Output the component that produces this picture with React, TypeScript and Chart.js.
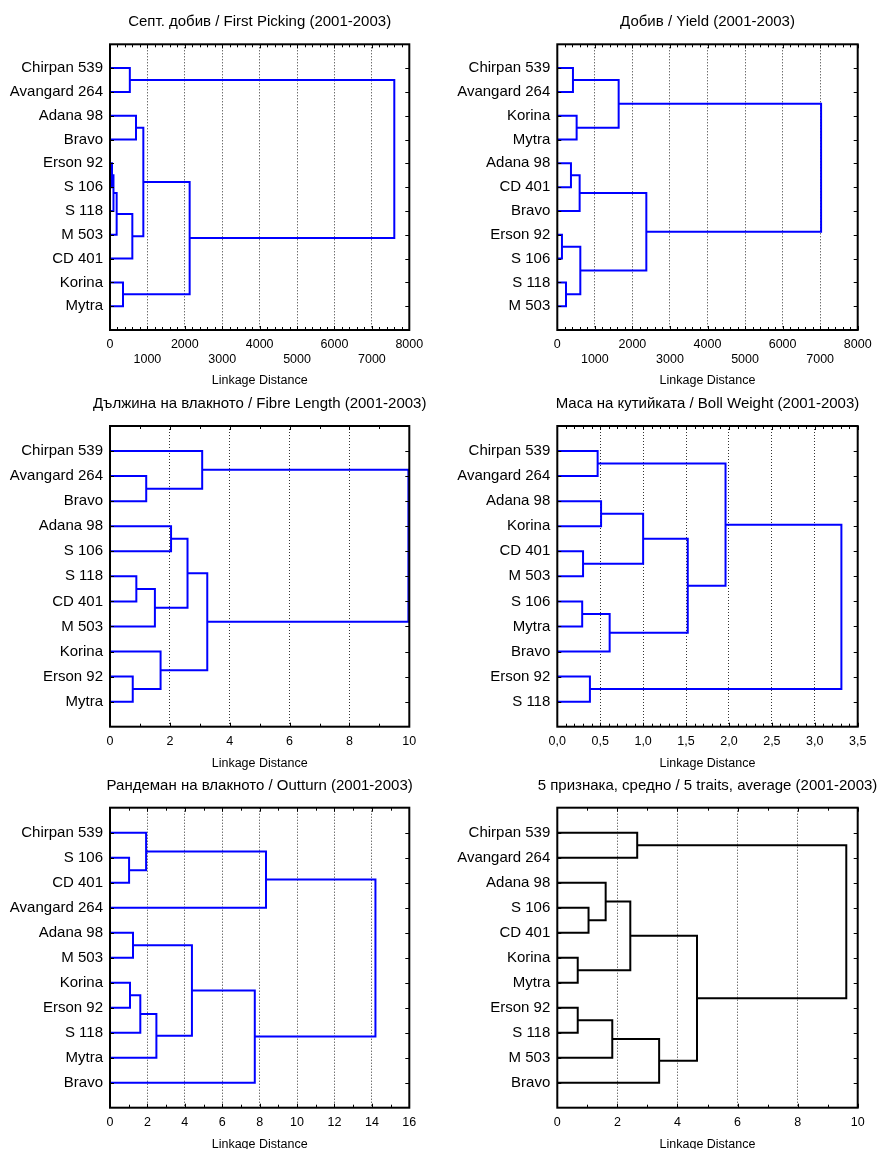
import React, { useEffect, useRef } from 'react';
import { Chart, registerables } from 'chart.js';

Chart.register(...registerables);

const FONT = "'Liberation Sans', Arial, Helvetica, sans-serif";
const AXIS_TITLE = 'Linkage Distance';

// ---------- Panel 1: First Picking ----------
const P1_TITLE = 'Септ. добив / First Picking (2001-2003)';
const P1_LEAVES = ['Chirpan 539', 'Avangard 264', 'Adana 98', 'Bravo', 'Erson 92', 'S 106', 'S 118', 'M 503', 'CD 401', 'Korina', 'Mytra'];
// [nodeA, nodeB, linkage distance]; leaves are 0..10, merges get ids 11, 12, ...
const P1_MERGES = [
  [4, 5, 53], [11, 6, 93], [12, 7, 178], [13, 8, 597], [0, 1, 530],
  [2, 3, 695], [16, 14, 891], [9, 10, 347], [17, 18, 2129], [15, 19, 7599],
];
const P1_XTICKS = [0, 1000, 2000, 3000, 4000, 5000, 6000, 7000, 8000];
const P1_XLABELS = ['0', ['', '1000'], '2000', ['', '3000'], '4000', ['', '5000'], '6000', ['', '7000'], '8000'];

// ---------- Panel 2: Yield ----------
const P2_TITLE = 'Добив / Yield (2001-2003)';
const P2_LEAVES = ['Chirpan 539', 'Avangard 264', 'Korina', 'Mytra', 'Adana 98', 'CD 401', 'Bravo', 'Erson 92', 'S 106', 'S 118', 'M 503'];
const P2_MERGES = [
  [0, 1, 417], [2, 3, 515], [11, 12, 1634], [4, 5, 364], [14, 6, 595],
  [7, 8, 124], [9, 10, 231], [16, 17, 613], [15, 18, 2371], [13, 19, 7025],
];
const P2_XTICKS = P1_XTICKS;
const P2_XLABELS = P1_XLABELS;

// ---------- Panel 3: Fibre Length ----------
const P3_TITLE = 'Дължина на влакното / Fibre Length (2001-2003)';
const P3_LEAVES = ['Chirpan 539', 'Avangard 264', 'Bravo', 'Adana 98', 'S 106', 'S 118', 'CD 401', 'M 503', 'Korina', 'Erson 92', 'Mytra'];
const P3_MERGES = [
  [1, 2, 1.21], [0, 11, 3.08], [3, 4, 2.04], [5, 6, 0.88], [14, 7, 1.5],
  [13, 15, 2.59], [9, 10, 0.76], [8, 17, 1.69], [16, 18, 3.25], [12, 19, 9.97],
];
const P3_XTICKS = [0, 2, 4, 6, 8, 10];
const P3_XLABELS = ['0', '2', '4', '6', '8', '10'];

// ---------- Panel 4: Boll Weight ----------
const P4_TITLE = 'Маса на кутийката / Boll Weight (2001-2003)';
const P4_LEAVES = ['Chirpan 539', 'Avangard 264', 'Adana 98', 'Korina', 'CD 401', 'M 503', 'S 106', 'Mytra', 'Bravo', 'Erson 92', 'S 118'];
const P4_MERGES = [
  [0, 1, 0.47], [2, 3, 0.51], [4, 5, 0.3], [12, 13, 1.0], [6, 7, 0.29],
  [15, 8, 0.61], [14, 16, 1.52], [11, 17, 1.96], [9, 10, 0.38], [18, 19, 3.31],
];
const P4_XTICKS = [0, 0.5, 1, 1.5, 2, 2.5, 3, 3.5];
const P4_XLABELS = ['0,0', '0,5', '1,0', '1,5', '2,0', '2,5', '3,0', '3,5'];

// ---------- Panel 5: Outturn ----------
const P5_TITLE = 'Рандеман на влакното / Outturn (2001-2003)';
const P5_LEAVES = ['Chirpan 539', 'S 106', 'CD 401', 'Avangard 264', 'Adana 98', 'M 503', 'Korina', 'Erson 92', 'S 118', 'Mytra', 'Bravo'];
const P5_MERGES = [
  [1, 2, 1.02], [0, 11, 1.93], [12, 3, 8.34], [4, 5, 1.23], [6, 7, 1.07],
  [15, 8, 1.62], [16, 9, 2.48], [14, 17, 4.38], [18, 10, 7.74], [13, 19, 14.19],
];
const P5_XTICKS = [0, 2, 4, 6, 8, 10, 12, 14, 16];
const P5_XLABELS = ['0', '2', '4', '6', '8', '10', '12', '14', '16'];

// ---------- Panel 6: 5 traits average ----------
const P6_TITLE = '5 признака, средно / 5 traits, average (2001-2003)';
const P6_LEAVES = ['Chirpan 539', 'Avangard 264', 'Adana 98', 'S 106', 'CD 401', 'Korina', 'Mytra', 'Erson 92', 'S 118', 'M 503', 'Bravo'];
const P6_MERGES = [
  [0, 1, 2.66], [3, 4, 1.04], [2, 12, 1.61], [5, 6, 0.68], [13, 14, 2.43],
  [7, 8, 0.68], [16, 9, 1.83], [17, 10, 3.39], [15, 18, 4.65], [11, 19, 9.62],
];
const P6_XTICKS = P3_XTICKS;
const P6_XLABELS = P3_XLABELS;

// ---------- Layout (positions / styles only) ----------
const PANELS = [
  { title: P1_TITLE, leaves: P1_LEAVES, merges: P1_MERGES, xticks: P1_XTICKS, xlabels: P1_XLABELS, minor: 200, color: '#0000ff',
    left: 0, top: 0, w: 440, h: 388, padTop: 44.3, padRight: 30.7, yw: 110, xh: 58 },
  { title: P2_TITLE, leaves: P2_LEAVES, merges: P2_MERGES, xticks: P2_XTICKS, xlabels: P2_XLABELS, minor: 200, color: '#0000ff',
    left: 440, top: 0, w: 439, h: 388, padTop: 44.3, padRight: 21.3, yw: 117.3, xh: 58 },
  { title: P3_TITLE, leaves: P3_LEAVES, merges: P3_MERGES, xticks: P3_XTICKS, xlabels: P3_XLABELS, minor: 1, color: '#0000ff',
    left: 0, top: 385, w: 440, h: 386, padTop: 41, padRight: 30.7, yw: 110, xh: 44.3 },
  { title: P4_TITLE, leaves: P4_LEAVES, merges: P4_MERGES, xticks: P4_XTICKS, xlabels: P4_XLABELS, minor: 0.1, color: '#0000ff',
    left: 440, top: 385, w: 439, h: 386, padTop: 41, padRight: 21.3, yw: 117.3, xh: 44.3 },
  { title: P5_TITLE, leaves: P5_LEAVES, merges: P5_MERGES, xticks: P5_XTICKS, xlabels: P5_XLABELS, minor: 1, color: '#0000ff',
    left: 0, top: 765, w: 440, h: 387, padTop: 42.7, padRight: 30.7, yw: 110, xh: 44.3 },
  { title: P6_TITLE, leaves: P6_LEAVES, merges: P6_MERGES, xticks: P6_XTICKS, xlabels: P6_XLABELS, minor: 1, color: '#000000',
    left: 440, top: 765, w: 439, h: 387, padTop: 42.7, padRight: 21.3, yw: 117.3, xh: 44.3 },
];

function buildLinks(leaves: string[], merges: number[][]) {
  const n = leaves.length;
  const nx: number[] = [];
  const ny: number[] = [];
  for (let i = 0; i < n; i++) { nx.push(0); ny.push(i + 1); }
  const links: { x: number; y: number }[][] = [];
  merges.forEach(([a, b, h]) => {
    links.push([
      { x: nx[a], y: ny[a] },
      { x: h, y: ny[a] },
      { x: h, y: ny[b] },
      { x: nx[b], y: ny[b] },
    ]);
    nx.push(h);
    ny.push((ny[a] + ny[b]) / 2);
  });
  return links;
}

function Dendrogram({ p }: { p: any }) {
  const ref = useRef<HTMLCanvasElement>(null);
  useEffect(() => {
    if (!ref.current) return;
    const links = buildLinks(p.leaves, p.merges);
    const xMax = p.xticks[p.xticks.length - 1];
    const majorStep = p.xticks[1] - p.xticks[0];
    const decor = {
      id: 'decor',
      afterDatasetsDraw(chart: any) {
        const { ctx, chartArea: a, scales } = chart;
        const x = scales.x;
        const y = scales.y;
        ctx.save();
        ctx.strokeStyle = '#000';
        ctx.lineWidth = 1;
        const seg = (x1: number, y1: number, x2: number, y2: number) => {
          ctx.beginPath(); ctx.moveTo(x1, y1); ctx.lineTo(x2, y2); ctx.stroke();
        };
        const nMinor = Math.round(xMax / p.minor);
        const per = Math.round(majorStep / p.minor);
        for (let k = 0; k <= nMinor; k++) {
          const px = Math.round(x.getPixelForValue(k * p.minor)) + 0.5;
          const len = k % per === 0 ? 4 : 3;
          seg(px, a.bottom, px, a.bottom - len);
          seg(px, a.top, px, a.top + len);
        }
        p.leaves.forEach((_: string, i: number) => {
          const py = Math.round(y.getPixelForValue(i + 1)) + 0.5;
          seg(a.left, py, a.left + 4, py);
          seg(a.right, py, a.right - 4, py);
        });
        ctx.lineWidth = 2;
        ctx.strokeRect(a.left, a.top, a.right - a.left, a.bottom - a.top);
        ctx.fillStyle = '#000';
        ctx.font = `15px ${FONT}`;
        ctx.textAlign = 'center';
        ctx.textBaseline = 'middle';
        ctx.fillText(p.title, (a.left + a.right) / 2, a.top - 22);
        ctx.restore();
      },
    };
    const chart = new Chart(ref.current, {
      type: 'scatter',
      data: {
        datasets: links.map((pts) => ({
          data: pts,
          showLine: true,
          borderColor: p.color,
          backgroundColor: p.color,
          borderWidth: 2,
          pointRadius: 0,
          tension: 0,
          borderJoinStyle: 'miter',
          borderCapStyle: 'butt',
        })),
      },
      options: {
        responsive: false,
        animation: false,
        events: [],
        layout: { padding: { top: p.padTop, right: p.padRight, left: 0, bottom: 0 } },
        plugins: { legend: { display: false }, tooltip: { enabled: false }, title: { display: false } },
        scales: {
          x: {
            type: 'linear',
            min: 0,
            max: xMax,
            afterBuildTicks: (s: any) => { s.ticks = p.xticks.map((v: number) => ({ value: v })); },
            afterFit: (s: any) => { s.height = p.xh; },
            grid: { color: '#333', lineWidth: 1, drawTicks: false },
            border: { display: false, dash: [1, 2] },
            ticks: {
              autoSkip: false,
              maxRotation: 0,
              minRotation: 0,
              padding: 7,
              color: '#000',
              font: { family: FONT, size: 12.5 },
              callback: (_v: any, i: number) => p.xlabels[i],
            },
            title: { display: true, text: AXIS_TITLE, color: '#000', font: { family: FONT, size: 12.5 }, padding: 0 },
          },
          y: {
            type: 'linear',
            min: 0,
            max: p.leaves.length + 1,
            reverse: true,
            afterBuildTicks: (s: any) => { s.ticks = p.leaves.map((_: string, i: number) => ({ value: i + 1 })); },
            afterFit: (s: any) => { s.width = p.yw; },
            grid: { display: false, drawTicks: false },
            border: { display: false },
            ticks: {
              autoSkip: false,
              padding: 7,
              color: '#000',
              font: { family: FONT, size: 15 },
              callback: (v: any) => p.leaves[Math.round(v) - 1] ?? '',
            },
          },
        },
      },
      plugins: [decor],
    } as any);
    return () => chart.destroy();
  }, [p]);
  return (
    <canvas
      ref={ref}
      width={p.w}
      height={p.h}
      style={{ position: 'absolute', left: p.left, top: p.top, width: p.w, height: p.h }}
    />
  );
}

export default function App() {
  return (
    <div style={{ position: 'absolute', left: 0, top: 0, width: 879, height: 1149, overflow: 'hidden', background: '#fff' }}>
      {PANELS.map((p, i) => (
        <Dendrogram key={i} p={p} />
      ))}
    </div>
  );
}
